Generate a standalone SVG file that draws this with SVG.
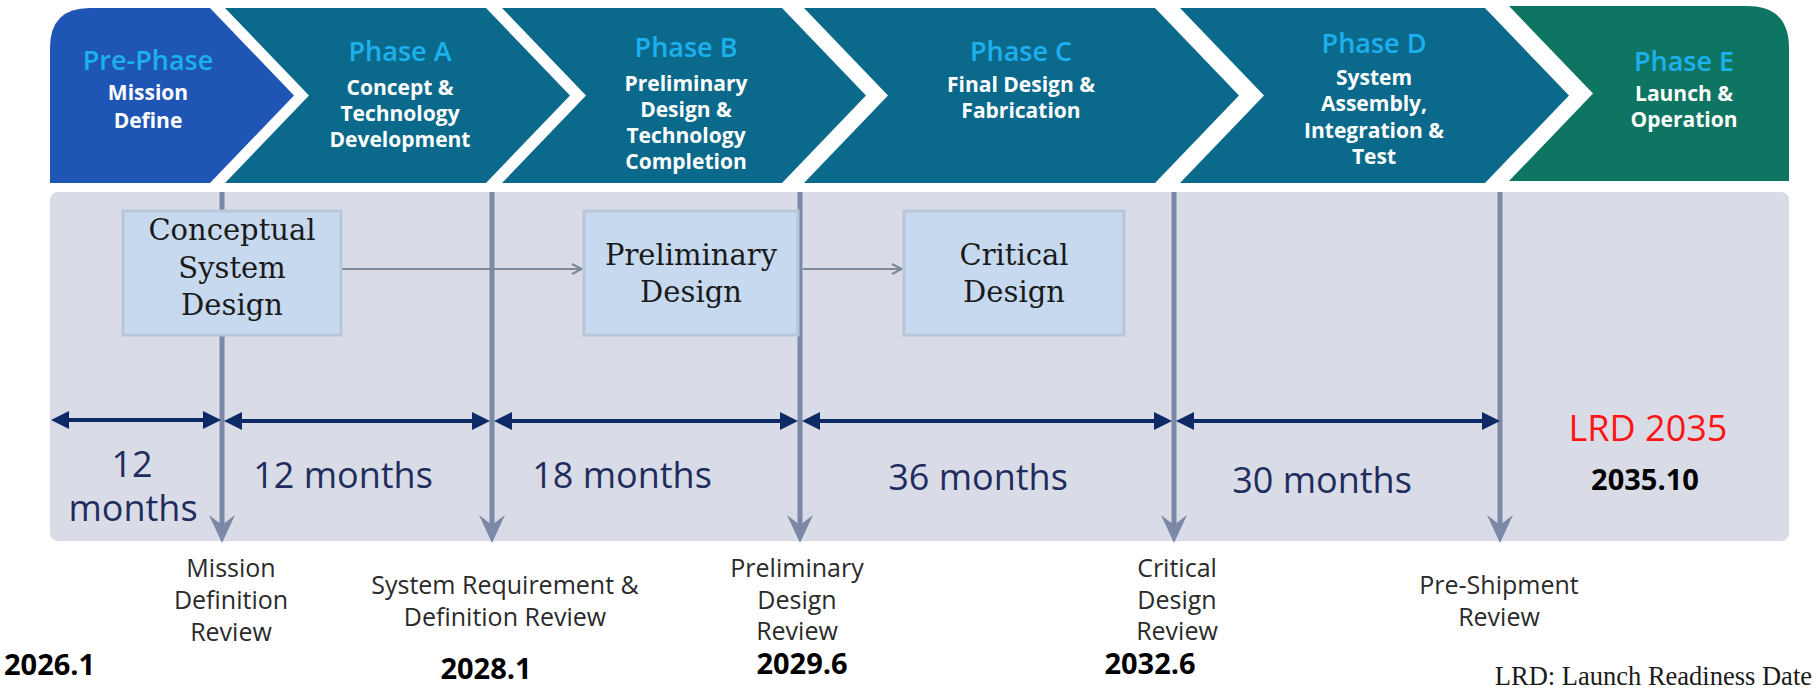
<svg xmlns="http://www.w3.org/2000/svg" width="1817" height="697" viewBox="0 0 1817 697">
  <style>
    .title { font-family: "Open Sans", "Noto Sans", sans-serif; font-size: 27px; font-weight: 600; fill: #1cb0ee; text-anchor: middle; }
    .sub { font-family: "Open Sans", "Noto Sans", sans-serif; font-size: 21px; font-weight: 700; fill: #ffffff; text-anchor: middle; }
    .box { fill: #c6d9ef; stroke: #b7c6d8; stroke-width: 3; }
    .boxtxt { font-family: "DejaVu Serif", "Liberation Serif", serif; font-size: 29px; fill: #1a1a1a; text-anchor: middle; }
    .dur { font-family: "Open Sans", "Noto Sans", sans-serif; font-size: 36px; fill: #1f2d5e; text-anchor: middle; }
    .rev { font-family: "Open Sans", "Noto Sans", sans-serif; font-size: 25px; fill: #2a2a2a; text-anchor: middle; }
    .date { font-family: "Open Sans", "Noto Sans", sans-serif; font-size: 29px; font-weight: 700; fill: #000000; text-anchor: middle; }
    .milestone { stroke: #7b88a6; stroke-width: 5; fill: none; }
    .span { stroke: #0d2a66; stroke-width: 4; fill: none; }
    .flow { stroke: #7f8796; stroke-width: 2; fill: none; }
  </style>
  <defs>
    <marker id="spanHead" viewBox="0 0 18 18" markerUnits="userSpaceOnUse" markerWidth="18" markerHeight="18" refX="8" refY="9" orient="auto-start-reverse">
      <path d="M0,0 L18,9 L0,18 Z" fill="#0d2a66"/>
    </marker>
    <marker id="gateHead" viewBox="0 0 28 28" markerUnits="userSpaceOnUse" markerWidth="28" markerHeight="28" refX="14" refY="14" orient="auto">
      <path d="M0,1 L28,14 L0,27 L10,14 Z" fill="#7b88a6"/>
    </marker>
    <marker id="flowHead" viewBox="0 0 12 12" markerUnits="userSpaceOnUse" markerWidth="12" markerHeight="12" refX="11" refY="6" orient="auto">
      <path d="M1,1 L11,6 L1,11" fill="none" stroke="#7f8796" stroke-width="2"/>
    </marker>
  </defs>

  <!-- phase banner -->
  <g id="pre-phase">
    <path d="M50,183 L50,48 Q50,8 90,8 L210,8 L294,95.5 L210,183 Z" fill="#1f55b5"/>
    <text class="title" x="148" y="70">Pre-Phase</text>
    <text class="sub" x="148" y="100">Mission</text>
    <text class="sub" x="148" y="128">Define</text>
  </g>
  <g id="phase-a">
    <path d="M225,8 L486,8 L570,95.5 L486,183 L225,183 L309,95.5 Z" fill="#0b6a8b"/>
    <text class="title" x="400" y="61">Phase A</text>
    <text class="sub" x="400" y="95">Concept &amp;</text>
    <text class="sub" x="400" y="121">Technology</text>
    <text class="sub" x="400" y="147">Development</text>
  </g>
  <g id="phase-b">
    <path d="M502,8 L782,8 L866,95.5 L782,183 L502,183 L586,95.5 Z" fill="#0b6a8b"/>
    <text class="title" x="686" y="57">Phase B</text>
    <text class="sub" x="686" y="91">Preliminary</text>
    <text class="sub" x="686" y="117">Design &amp;</text>
    <text class="sub" x="686" y="143">Technology</text>
    <text class="sub" x="686" y="169">Completion</text>
  </g>
  <g id="phase-c">
    <path d="M804,8 L1155,8 L1239,95.5 L1155,183 L804,183 L888,95.5 Z" fill="#0b6a8b"/>
    <text class="title" x="1021" y="61">Phase C</text>
    <text class="sub" x="1021" y="92">Final Design &amp;</text>
    <text class="sub" x="1021" y="118">Fabrication</text>
  </g>
  <g id="phase-d">
    <path d="M1180,8 L1485,8 L1569,95.5 L1485,183 L1180,183 L1264,95.5 Z" fill="#0b6a8b"/>
    <text class="title" x="1374" y="53">Phase D</text>
    <text class="sub" x="1374" y="85">System</text>
    <text class="sub" x="1374" y="111">Assembly,</text>
    <text class="sub" x="1374" y="138">Integration &amp;</text>
    <text class="sub" x="1374" y="164">Test</text>
  </g>
  <g id="phase-e">
    <path d="M1509,6 L1747,6 Q1789,6 1789,48 L1789,181 L1509,181 L1593,93.5 Z" fill="#0d7562"/>
    <text class="title" x="1684" y="71">Phase E</text>
    <text class="sub" x="1684" y="101">Launch &amp;</text>
    <text class="sub" x="1684" y="127">Operation</text>
  </g>

  <!-- schedule panel -->
  <g id="panel">
    <rect x="50" y="192" width="1739" height="349" rx="8" fill="#d9dce6"/>
  </g>

  <g id="connectors">
    <!-- review gates -->
    <line class="milestone" x1="222" y1="192" x2="222" y2="529" marker-end="url(#gateHead)"/>
    <line class="milestone" x1="492" y1="192" x2="492" y2="529" marker-end="url(#gateHead)"/>
    <line class="milestone" x1="800" y1="192" x2="800" y2="529" marker-end="url(#gateHead)"/>
    <line class="milestone" x1="1174" y1="192" x2="1174" y2="529" marker-end="url(#gateHead)"/>
    <line class="milestone" x1="1500" y1="192" x2="1500" y2="529" marker-end="url(#gateHead)"/>
    <!-- design flow -->
    <line class="flow" x1="342" y1="269" x2="582" y2="269" marker-end="url(#flowHead)"/>
    <line class="flow" x1="803" y1="269" x2="902" y2="269" marker-end="url(#flowHead)"/>
    <!-- durations -->
    <line class="span" x1="61" y1="420" x2="211" y2="420" marker-start="url(#spanHead)" marker-end="url(#spanHead)"/>
    <line class="span" x1="234" y1="421" x2="480" y2="421" marker-start="url(#spanHead)" marker-end="url(#spanHead)"/>
    <line class="span" x1="504" y1="421" x2="788" y2="421" marker-start="url(#spanHead)" marker-end="url(#spanHead)"/>
    <line class="span" x1="812" y1="421" x2="1162" y2="421" marker-start="url(#spanHead)" marker-end="url(#spanHead)"/>
    <line class="span" x1="1186" y1="421" x2="1490" y2="421" marker-start="url(#spanHead)" marker-end="url(#spanHead)"/>
  </g>

  <g id="conceptual-design">
    <rect class="box" x="123" y="211" width="218" height="124"/>
    <text class="boxtxt" x="232" y="240">Conceptual</text>
    <text class="boxtxt" x="232" y="278">System</text>
    <text class="boxtxt" x="232" y="315">Design</text>
  </g>
  <g id="preliminary-design">
    <rect class="box" x="584" y="211" width="214" height="124"/>
    <text class="boxtxt" x="691" y="265">Preliminary</text>
    <text class="boxtxt" x="691" y="302">Design</text>
  </g>
  <g id="critical-design">
    <rect class="box" x="904" y="211" width="220" height="124"/>
    <text class="boxtxt" x="1014" y="265">Critical</text>
    <text class="boxtxt" x="1014" y="302">Design</text>
  </g>

  <g id="durations">
    <text class="dur" x="132" y="477">12</text>
    <text class="dur" x="133" y="521">months</text>
    <text class="dur" x="343" y="488">12 months</text>
    <text class="dur" x="622" y="488">18 months</text>
    <text class="dur" x="978" y="490">36 months</text>
    <text class="dur" x="1322" y="493">30 months</text>
    <text class="dur" x="1648" y="441" style="fill:#ff1414">LRD 2035</text>
    <text class="date" x="1645" y="490">2035.10</text>
  </g>

  <g id="reviews">
    <text class="rev" x="231" y="577">Mission</text>
    <text class="rev" x="231" y="609">Definition</text>
    <text class="rev" x="231" y="641">Review</text>
    <text class="rev" x="505" y="594">System Requirement &amp;</text>
    <text class="rev" x="505" y="626">Definition Review</text>
    <text class="rev" x="797" y="577">Preliminary</text>
    <text class="rev" x="797" y="609">Design</text>
    <text class="rev" x="797" y="640">Review</text>
    <text class="rev" x="1177" y="577">Critical</text>
    <text class="rev" x="1177" y="609">Design</text>
    <text class="rev" x="1177" y="640">Review</text>
    <text class="rev" x="1499" y="594">Pre-Shipment</text>
    <text class="rev" x="1499" y="626">Review</text>
  </g>

  <g id="dates">
    <text class="date" x="4" y="675" style="text-anchor:start">2026.1</text>
    <text class="date" x="486" y="679">2028.1</text>
    <text class="date" x="802" y="674">2029.6</text>
    <text class="date" x="1150" y="674">2032.6</text>
    <text x="1812" y="685" style="font-family:'Liberation Serif', serif; font-size:26.5px; fill:#1a1a1a; text-anchor:end">LRD: Launch Readiness Date</text>
  </g>
</svg>
